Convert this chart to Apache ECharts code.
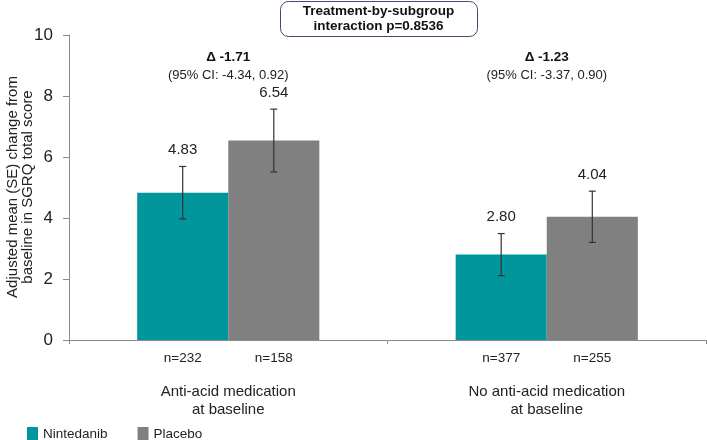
<!DOCTYPE html>
<html>
<head>
<meta charset="utf-8">
<script src="https://cdn.jsdelivr.net/npm/echarts@6/dist/echarts.min.js"></script>
<style>html,body{margin:0;padding:0;background:#fff}#c{width:707px;height:440px}</style>
</head>
<body>
<div id="c"></div>
<script>
var categories = ['Anti-acid medication\nat baseline', 'No anti-acid medication\nat baseline'];
var seriesNames = ['Nintedanib', 'Placebo'];
var nintedanib = [4.83, 2.80];
var placebo = [6.54, 4.04];
var nintedanibSE = [0.86, 0.69];
var placeboSE = [1.03, 0.84];
var nintedanibN = [232, 377];
var placeboN = [158, 255];
var deltas = ['-1.71', '-1.23'];
var cis = ['(95% CI: -4.34, 0.92)', '(95% CI: -3.37, 0.90)'];
var interactionText = ['Treatment-by-subgroup', 'interaction p=0.8536'];
var yAxisTitle = ['Adjusted mean (SE) change from', 'baseline in SGRQ total score'];
var yMin = 0, yMax = 10, yInterval = 2;

var FONT = 'Liberation Sans, Arial, Helvetica, sans-serif';
var TEAL = '#00969B', GREY = '#808080';
var BAR_FRAC = 0.286;

function errData(vals, se) {
  return vals.map(function (v, i) { return [i, v - se[i], v + se[i], v]; });
}
function errSeries(name, vals, se, sign) {
  return {
    type: 'custom', name: name + ' SE', z: 5, silent: true,
    data: errData(vals, se),
    encode: { x: 0, y: [1, 2] },
    renderItem: function (params, api) {
      var idx = api.value(0);
      var lo = api.coord([idx, api.value(1)]);
      var hi = api.coord([idx, api.value(2)]);
      var bw = api.size([1, 0])[0] * BAR_FRAC;
      var x = lo[0] + sign * bw / 2;
      var cap = 3.5;
      var st = { stroke: '#333', lineWidth: 1.2 };
      return {
        type: 'group',
        children: [
          { type: 'line', shape: { x1: x, y1: lo[1], x2: x, y2: hi[1] }, style: st },
          { type: 'line', shape: { x1: x - cap, y1: lo[1], x2: x + cap, y2: lo[1] }, style: st },
          { type: 'line', shape: { x1: x - cap, y1: hi[1], x2: x + cap, y2: hi[1] }, style: st },
          { type: 'text', x: x, y: hi[1] - 9,
            style: { text: api.value(3).toFixed(2), fill: '#222', font: '15px ' + FONT, align: 'center', verticalAlign: 'bottom' } }
        ]
      };
    }
  };
}
function barSeries(name, vals, ns, color) {
  return {
    type: 'bar', name: name, data: vals, barWidth: (BAR_FRAC * 100) + '%', barGap: '0%',
    itemStyle: { color: color },
    label: {
      show: true, position: 'bottom', distance: 11, color: '#222', fontFamily: FONT, fontSize: 13.5,
      formatter: function (p) { return 'n=' + ns[p.dataIndex]; }
    }
  };
}

var chart = echarts.init(document.getElementById('c'), null, { renderer: 'canvas' });
chart.setOption({
  animation: false,
  grid: { left: 69, right: 1, top: 35, bottom: 100, containLabel: false, outerBoundsMode: 'none' },
  legend: {
    left: 22, top: 422, itemWidth: 11, itemHeight: 15, itemGap: 30,
    data: [{ name: seriesNames[0], icon: 'rect' }, { name: seriesNames[1], icon: 'rect' }],
    textStyle: { color: '#222', fontFamily: FONT, fontSize: 13.5 }
  },
  xAxis: {
    type: 'category', data: categories,
    axisLine: { lineStyle: { color: '#8a8a8a', width: 1 } },
    axisTick: { show: true, length: 4, lineStyle: { color: '#8a8a8a' } },
    axisLabel: { margin: 43, color: '#222', fontFamily: FONT, fontSize: 15, lineHeight: 18 }
  },
  yAxis: {
    type: 'value', min: yMin, max: yMax, interval: yInterval,
    splitLine: { show: false },
    axisLine: { show: true, lineStyle: { color: '#8a8a8a', width: 1 } },
    axisTick: { show: true, length: 6, lineStyle: { color: '#8a8a8a' } },
    axisLabel: { margin: 16, color: '#222', fontFamily: FONT, fontSize: 17 }
  },
  series: [
    barSeries(seriesNames[0], nintedanib, nintedanibN, TEAL),
    barSeries(seriesNames[1], placebo, placeboN, GREY),
    errSeries(seriesNames[0], nintedanib, nintedanibSE, -1),
    errSeries(seriesNames[1], placebo, placeboSE, 1),
    {
      type: 'custom', name: 'delta', silent: true, z: 6,
      data: deltas.map(function (d, i) { return [i, yMax]; }),
      encode: { x: 0, y: 1 },
      renderItem: function (params, api) {
        var idx = api.value(0);
        var p = api.coord([idx, yMax]);
        return {
          type: 'group',
          children: [
            { type: 'text', x: p[0], y: p[1] + 22,
              style: { text: '\u0394 ' + deltas[idx], fill: '#111', font: 'bold 13.5px ' + FONT, align: 'center', verticalAlign: 'middle' } },
            { type: 'text', x: p[0], y: p[1] + 40,
              style: { text: cis[idx], fill: '#222', font: '13px ' + FONT, align: 'center', verticalAlign: 'middle' } }
          ]
        };
      }
    }
  ],
  graphic: [
    { type: 'text', x: 20, y: 187, rotation: Math.PI / 2,
      style: { text: yAxisTitle.join('\n'), fill: '#222', font: '15px ' + FONT, align: 'center', verticalAlign: 'middle', lineHeight: 15 } },
    { type: 'rect', left: 280, top: 1, shape: { width: 197, height: 35, r: 8 },
      style: { fill: '#fff', stroke: '#3e4d6a', lineWidth: 1 } },
    { type: 'text', x: 378.5, y: 18.5,
      style: { text: interactionText.join('\n'), fill: '#111', font: 'bold 13.5px ' + FONT, align: 'center', verticalAlign: 'middle', lineHeight: 15 } }
  ]
});
</script>
</body>
</html>
